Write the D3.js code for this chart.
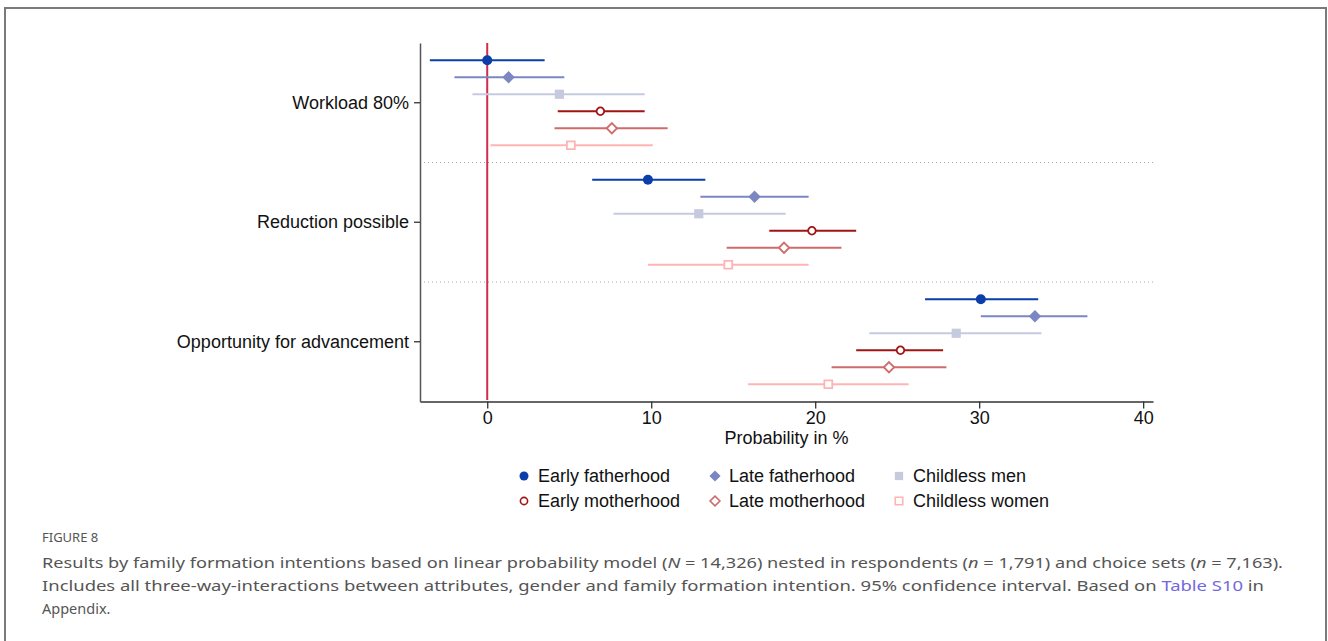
<!DOCTYPE html>
<html lang="en">
<head>
<meta charset="UTF-8">
<title>Figure 8</title>
<script src="https://d3js.org/d3.v7.min.js"></script>
<style>
  body { margin: 0; background: #fff; }
  svg { display: block; }
</style>
</head>
<body>
<svg id="chart"></svg>
<script>
    // attributes on the y axis
    const categories = ["Workload 80%", "Reduction possible", "Opportunity for advancement"];

    // groups (legend order)
    const groups = ["Early fatherhood", "Late fatherhood", "Childless men",
                    "Early motherhood", "Late motherhood", "Childless women"];

    // point estimates in %, one array per group, in the order of categories
    const earlyFatherhood = [0.0, 9.8, 30.1];
    const lateFatherhood  = [1.3, 16.3, 33.4];
    const childlessMen    = [4.4, 12.9, 28.6];
    const earlyMotherhood = [6.9, 19.8, 25.2];
    const lateMotherhood  = [7.6, 18.1, 24.5];
    const childlessWomen  = [5.1, 14.7, 20.8];

    // 95% confidence intervals
    const lowerCI = [
        [-3.5, 6.4, 26.7],
        [-2.0, 13.0, 30.1],
        [-0.9, 7.7, 23.3],
        [4.3, 17.2, 22.5],
        [4.1, 14.6, 21.0],
        [0.2, 9.8, 15.9]
    ];
    const upperCI = [
        [3.5, 13.3, 33.6],
        [4.7, 19.6, 36.6],
        [9.6, 18.2, 33.8],
        [9.6, 22.5, 27.8],
        [11.0, 21.6, 28.0],
        [10.1, 19.6, 25.7]
    ];

    const xTicks = [0, 10, 20, 30, 40];

    const estimates = [earlyFatherhood, lateFatherhood, childlessMen,
                       earlyMotherhood, lateMotherhood, childlessWomen];

    // styles per group
    const colour = ["#0b3ea8", "#7b86c2", "#c6cadf", "#a11414", "#d06b6b", "#ffb4b4"];
    const shape  = ["circle", "diamond", "square", "circle", "diamond", "square"];
    const filled = [true, true, true, false, false, false];

    const width = 1328, height = 641;
    const svg = d3.select("#chart").attr("width", width).attr("height", height);

    // outer frame of the figure
    svg.append("path")
        .attr("d", "M5,641 V8 H1326 V641")
        .attr("fill", "none")
        .attr("stroke", "#7a7a7a")
        .attr("stroke-width", 2);

    const x = d3.scaleLinear().domain([-4.1, 40.6]).range([420, 1153]);
    const y = d3.scaleBand().domain(categories).range([43, 401.5]).padding(0);
    const yInner = d3.scalePoint().domain(groups).range([-42.5, 42.5]);

    const font = "'Liberation Sans', Arial, sans-serif";
    const fs = 18;

    // dotted separators between categories
    svg.selectAll(".sep")
        .data(categories.slice(1))
        .enter().append("line")
        .attr("x1", 420).attr("x2", 1155)
        .attr("y1", d => y(d)).attr("y2", d => y(d))
        .attr("stroke", "#aaa")
        .attr("stroke-width", 1)
        .attr("stroke-dasharray", "1,3");

    // axes
    const xAxis = svg.append("g")
        .attr("transform", "translate(0,401.5)")
        .call(d3.axisBottom(x).tickValues(xTicks).tickSize(7).tickPadding(3).tickSizeOuter(0));
    xAxis.select(".domain").attr("stroke", "#333").attr("stroke-width", 1.5);
    xAxis.selectAll(".tick line").attr("stroke", "#333").attr("stroke-width", 1.3);
    xAxis.selectAll("text").attr("font-family", font).attr("font-size", fs).attr("fill", "#111");

    const yAxis = svg.append("g")
        .attr("transform", "translate(420,0)")
        .call(d3.axisLeft(y).tickSize(6).tickPadding(5).tickSizeOuter(0));
    yAxis.select(".domain").attr("stroke", "#555").attr("stroke-width", 1.5);
    yAxis.selectAll(".tick line").attr("stroke", "#333").attr("stroke-width", 1.3);
    yAxis.selectAll("text").attr("font-family", font).attr("font-size", fs).attr("fill", "#111");

    svg.append("text")
        .attr("x", (x(-4.1) + x(40.6)) / 2)
        .attr("y", 444)
        .attr("text-anchor", "middle")
        .attr("font-family", font)
        .attr("font-size", fs)
        .attr("fill", "#111")
        .text("Probability in %");

    // reference line at zero
    svg.append("line")
        .attr("x1", x(0)).attr("x2", x(0))
        .attr("y1", 43).attr("y2", 400)
        .attr("stroke", "#d22a48")
        .attr("stroke-width", 2);

    function marker(kind, r) {
        if (kind === "circle") {
            let p = d3.path();
            p.moveTo(r, 0);
            p.arc(0, 0, r, 0, 2 * Math.PI);
            p.closePath();
            return p.toString();
        }
        if (kind === "diamond") {
            return "M0," + (-r) + "L" + r + ",0L0," + r + "L" + (-r) + ",0Z";
        }
        let s = r * 0.82;
        return "M" + (-s) + "," + (-s) + "H" + s + "V" + s + "H" + (-s) + "Z";
    }

    function markerSize(i) {
        if (shape[i] === "circle") return filled[i] ? 5 : 3.8;
        if (shape[i] === "diamond") return filled[i] ? 6.2 : 5.2;
        return filled[i] ? 5.6 : 4.8;
    }

    // error bars and point estimates
    const rows = [];
    groups.forEach(function (g, gi) {
        categories.forEach(function (c, ci) {
            rows.push({group: g, gi: gi, cat: c, est: estimates[gi][ci], lo: lowerCI[gi][ci], hi: upperCI[gi][ci]});
        });
    });

    const cy = d => y(d.cat) + y.bandwidth() / 2 + yInner(d.group);

    svg.selectAll(".ci")
        .data(rows)
        .enter().append("line")
        .attr("x1", d => x(d.lo)).attr("x2", d => x(d.hi))
        .attr("y1", cy).attr("y2", cy)
        .attr("stroke", d => colour[d.gi])
        .attr("stroke-width", 2);

    svg.selectAll(".pt")
        .data(rows)
        .enter().append("path")
        .attr("transform", d => "translate(" + x(d.est) + "," + cy(d) + ")")
        .attr("d", d => marker(shape[d.gi], markerSize(d.gi)))
        .attr("fill", d => filled[d.gi] ? colour[d.gi] : "#fff")
        .attr("stroke", d => colour[d.gi])
        .attr("stroke-width", d => filled[d.gi] ? 0 : 1.8);

    // legend
    const legendX = [524, 715, 899];
    const legendY = [476, 501];
    const legend = svg.selectAll(".legend")
        .data(groups)
        .enter().append("g")
        .attr("transform", (d, i) => "translate(" + legendX[i % 3] + "," + legendY[Math.floor(i / 3)] + ")");

    legend.append("path")
        .attr("d", (d, i) => marker(shape[i], filled[i] ? markerSize(i) * 0.9 : markerSize(i) * 0.95))
        .attr("fill", (d, i) => filled[i] ? colour[i] : "#fff")
        .attr("stroke", (d, i) => colour[i])
        .attr("stroke-width", (d, i) => filled[i] ? 0 : 1.6);

    legend.append("text")
        .attr("x", 14)
        .attr("dy", "0.35em")
        .attr("font-family", font)
        .attr("font-size", fs)
        .attr("fill", "#111")
        .text(d => d);

    // caption
    const capFont = "'Noto Sans', 'Open Sans', sans-serif";
    svg.append("text")
        .attr("x", 42).attr("y", 542)
        .attr("font-family", capFont)
        .attr("font-size", 13)
        .attr("fill", "#555")
        .text("FIGURE 8");

    const cap1 = svg.append("text")
        .attr("x", 42).attr("y", 568)
        .attr("font-family", capFont).attr("font-size", 14.5).attr("fill", "#555");
    cap1.append("tspan").text("Results by family formation intentions based on linear probability model (");
    cap1.append("tspan").attr("font-style", "italic").text("N");
    cap1.append("tspan").text(" = 14,326) nested in respondents (");
    cap1.append("tspan").attr("font-style", "italic").text("n");
    cap1.append("tspan").text(" = 1,791) and choice sets (");
    cap1.append("tspan").attr("font-style", "italic").text("n");
    cap1.append("tspan").text(" = 7,163).");

    const cap2 = svg.append("text")
        .attr("x", 42).attr("y", 591)
        .attr("font-family", capFont).attr("font-size", 14.5).attr("fill", "#555");
    cap2.append("tspan").text("Includes all three-way-interactions between attributes, gender and family formation intention. 95% confidence interval. Based on ");
    cap2.append("tspan").attr("fill", "#7367e0").text("Table S10");
    cap2.append("tspan").text(" in");

    svg.append("text")
        .attr("x", 42).attr("y", 614)
        .attr("font-family", capFont).attr("font-size", 14.5).attr("fill", "#555")
        .text("Appendix.");

    // fit caption lines to the reference widths
    cap1.attr("textLength", 1241).attr("lengthAdjust", "spacingAndGlyphs");
    cap2.attr("textLength", 1222).attr("lengthAdjust", "spacingAndGlyphs");
</script>
</body>
</html>
